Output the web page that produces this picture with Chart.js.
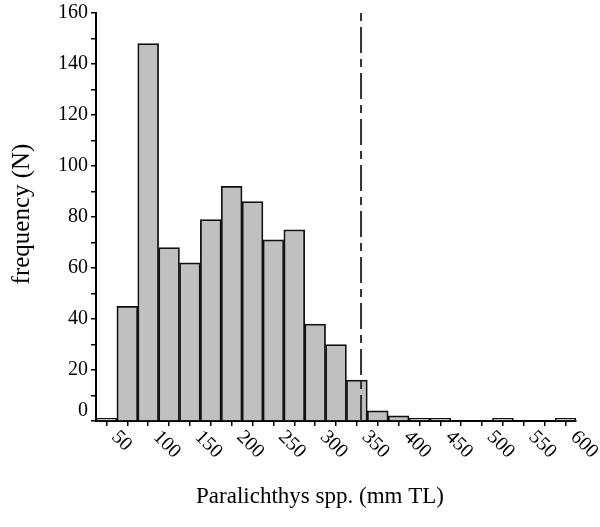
<!DOCTYPE html>
<html lang="en">
<head>
<meta charset="UTF-8" />
<title>Paralichthys spp. length frequency</title>
<script src="https://cdn.jsdelivr.net/npm/chart.js"></script>
<style>
  html, body { margin: 0; padding: 0; background: #fff; }
  #wrap { width: 600px; height: 527px; }
</style>
</head>
<body>
<div id="wrap"><canvas id="lengthChart"></canvas></div>
<script>
// 25 mm length classes (centre, mm TL) and number of fish in each
const lengthBins = [50, 75, 100, 125, 150, 175, 200, 225, 250, 275, 300, 325,
                    350, 375, 400, 425, 450, 475, 500, 525, 550, 575, 600];
const counts = [1, 45, 148, 68, 62, 79, 92, 86, 71, 75, 38, 30,
                16, 4, 2, 1, 1, 0, 0, 1, 0, 0, 1];
const xTickLabels = [50, 100, 150, 200, 250, 300, 350, 400, 450, 500, 550, 600];
const yTickLabels = [0, 20, 40, 60, 80, 100, 120, 140, 160];
// length at maturity, dash-dot line
const maturityLength = 355;

const binWidth = lengthBins[1] - lengthBins[0];
const serif = '"Liberation Serif", "Times New Roman", serif';

// maturity marker, drawn over the bars
const maturityLine = {
  id: 'maturityLine',
  afterDatasetsDraw(chart) {
    const { ctx, chartArea: a, scales: { x } } = chart;
    const px = x.getPixelForValue((maturityLength - lengthBins[0]) / binWidth);
    ctx.save();
    ctx.strokeStyle = '#333';
    ctx.lineWidth = 2;
    ctx.setLineDash([8, 6, 26, 6]);
    ctx.beginPath();
    ctx.moveTo(px, a.top);
    ctx.lineTo(px, a.bottom);
    ctx.stroke();
    ctx.restore();
  }
};

// tick labels and axis titles (x labels slant down to the right)
const axisText = {
  id: 'axisText',
  afterDraw(chart) {
    const { ctx, chartArea: a, scales: { x, y } } = chart;
    ctx.save();
    ctx.fillStyle = '#000';
    ctx.font = '20px ' + serif;

    ctx.textAlign = 'right';
    ctx.textBaseline = 'middle';
    yTickLabels.forEach(v => {
      // the zero label sits a little above the axis line
      const py = y.getPixelForValue(v) - (v === 0 ? 10 : 0);
      ctx.fillText(String(v), a.left - 8, py);
    });

    ctx.textAlign = 'left';
    xTickLabels.forEach(v => {
      const px = x.getPixelForValue(lengthBins.indexOf(v));
      ctx.save();
      ctx.translate(px + 8, a.bottom + 13);
      ctx.rotate(Math.PI / 4);
      ctx.fillText(String(v), 0, 0);
      ctx.restore();
    });

    ctx.textAlign = 'center';
    ctx.font = '23px ' + serif;
    ctx.fillText('Paralichthys spp. (mm TL)', a.left + 224, 497);
    ctx.font = '25px ' + serif;
    ctx.translate(22, 214);
    ctx.rotate(-Math.PI / 2);
    ctx.fillText('frequency (N)', 0, 0);
    ctx.restore();
  }
};

new Chart(document.getElementById('lengthChart'), {
  type: 'bar',
  data: {
    labels: lengthBins.map(String),
    datasets: [{
      data: counts,
      backgroundColor: '#c0c0c0',
      borderColor: '#111',
      borderWidth: 1.75,
      barPercentage: 1,
      categoryPercentage: 1
    }]
  },
  options: {
    responsive: true,
    maintainAspectRatio: false,
    animation: false,
    layout: { padding: { left: 91, top: 13, right: 24, bottom: 101 } },
    plugins: {
      legend: { display: false },
      tooltip: { enabled: false }
    },
    scales: {
      x: {
        offset: true,
        ticks: { display: false, autoSkip: false },
        grid: { offset: false, drawOnChartArea: false, tickLength: 5, color: '#000', lineWidth: 1.5 },
        border: { display: true, color: '#000', width: 2 }
      },
      y: {
        min: 0,
        max: 160,
        ticks: { display: false, stepSize: 10 },
        grid: { drawOnChartArea: false, tickLength: 5, color: '#000', lineWidth: 1.5 },
        border: { display: true, color: '#000', width: 2 }
      }
    }
  },
  plugins: [maturityLine, axisText]
});
</script>
</body>
</html>
